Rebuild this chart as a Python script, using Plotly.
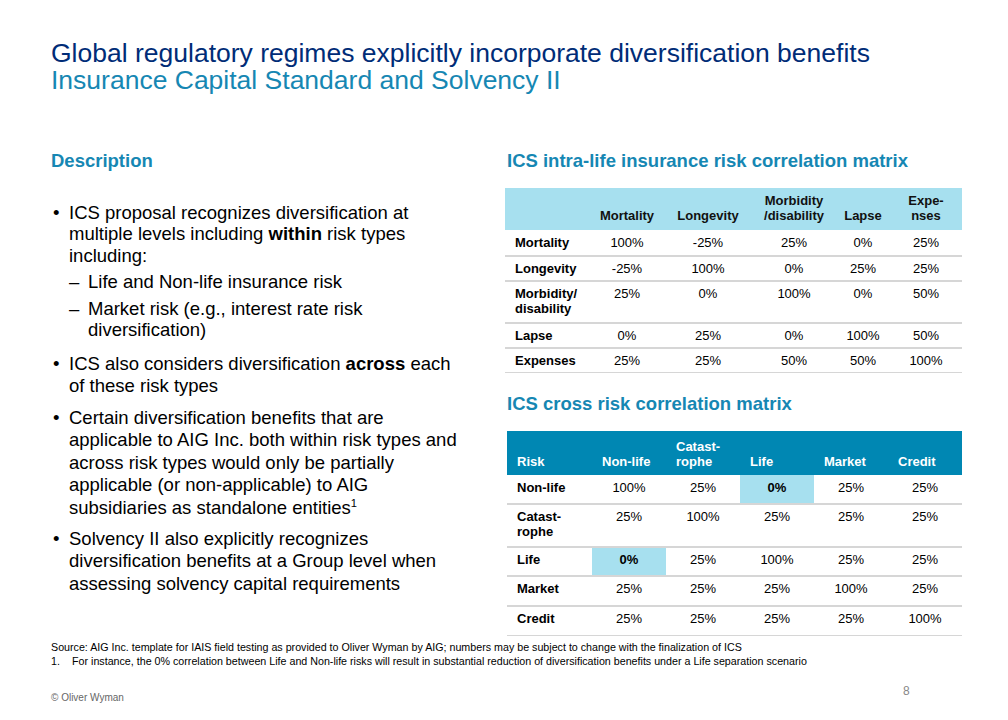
import plotly.graph_objects as go

W, H = 1008, 720
FONT = "Arial, 'Liberation Sans', sans-serif"
NAVY = "#002c77"
TEAL = "#1687b3"
HEAD_DARK = "#0087b3"
HEAD_LIGHT = "#a7e0ef"
RULE = "#d6d6d6"

# ---------------- data ----------------
title_text = "Global regulatory regimes explicitly incorporate diversification benefits"
subtitle_text = "Insurance Capital Standard and Solvency II"
left_heading = "Description"
intra_title = "ICS intra-life insurance risk correlation matrix"
cross_title = "ICS cross risk correlation matrix"

intra_corner = ""
intra_columns = ["Mortality", "Longevity", "Morbidity\n/disability", "Lapse", "Expe-\nnses"]
intra_rows = ["Mortality", "Longevity", "Morbidity/\ndisability", "Lapse", "Expenses"]
intra_values = [
    [100, -25, 25, 0, 25],
    [-25, 100, 0, 25, 25],
    [25, 0, 100, 0, 50],
    [0, 25, 0, 100, 50],
    [25, 25, 50, 50, 100],
]
intra_highlight = []

cross_corner = "Risk"
cross_columns = ["Non-life", "Catast-\nrophe", "Life", "Market", "Credit"]
cross_rows = ["Non-life", "Catast-\nrophe", "Life", "Market", "Credit"]
cross_values = [
    [100, 25, 0, 25, 25],
    [25, 100, 25, 25, 25],
    [0, 25, 100, 25, 25],
    [25, 25, 25, 100, 25],
    [25, 25, 25, 25, 100],
]
cross_highlight = [(0, 2), (2, 0)]  # (row, column): Non-life x Life

bullet_lines = [
    # (kind, text)  kind: "b" bullet first line, "c" continuation, "s" sub-bullet first line, "sc" sub continuation
    ("b", "ICS proposal recognizes diversification at"),
    ("c", "multiple levels including <b>within</b> risk types"),
    ("c", "including:"),
    ("s", "Life and Non-life insurance risk"),
    ("s", "Market risk (e.g., interest rate risk"),
    ("sc", "diversification)"),
    ("b", "ICS also considers diversification <b>across</b> each"),
    ("c", "of these risk types"),
    ("b", "Certain diversification benefits that are"),
    ("c", "applicable to AIG Inc. both within risk types and"),
    ("c", "across risk types would only be partially"),
    ("c", "applicable (or non-applicable) to AIG"),
    ("c", "subsidiaries as standalone entities<span style='font-size:16px'><sup>1</sup></span>"),
    ("b", "Solvency II also explicitly recognizes"),
    ("c", "diversification benefits at a Group level when"),
    ("c", "assessing solvency capital requirements"),
]
source_text = ("Source: AIG Inc. template for IAIS field testing as provided to Oliver Wyman by AIG; "
               "numbers may be subject to change with the finalization of ICS")
footnote_num = "1."
footnote_text = ("For instance, the 0% correlation between Life and Non-life risks will result in "
                 "substantial reduction of diversification benefits under a Life separation scenario")
copyright_text = "© Oliver Wyman"
page_number = "8"

# ---------------- layout config (pixels) ----------------
body_line_y = [212, 233.5, 255.5, 282, 308, 330, 363, 385, 417, 439.5, 462, 484.5, 507, 538, 560.5, 583]

intra_spec = dict(col_edges=[505, 590, 664, 752, 836, 890, 962],
                  row_edges=[188, 230, 256, 281, 323, 348, 373],
                  header_code=1, header_color="#111111", header_align="center",
                  header_pad=13, row_pad=13.5, line_gap=15)
cross_spec = dict(col_edges=[507, 592, 666, 740, 814, 888, 962],
                  row_edges=[431, 475, 504, 547, 576, 606, 636],
                  header_code=2, header_color="#ffffff", header_align="left",
                  header_pad=12.5, row_pad=14, line_gap=15)

fig = go.Figure()


def add_table(n, spec, corner, columns, rows, values, highlights):
    xe = spec["col_edges"]
    ye = spec["row_edges"]
    xa = "xaxis" if n == 1 else f"xaxis{n}"
    ya = "yaxis" if n == 1 else f"yaxis{n}"
    xr = "x" if n == 1 else f"x{n}"
    yr = "y" if n == 1 else f"y{n}"
    fig.update_layout({
        xa: dict(domain=[xe[0] / W, xe[-1] / W], range=[xe[0], xe[-1]], visible=False,
                 fixedrange=True, anchor=yr),
        ya: dict(domain=[1 - ye[-1] / H, 1 - ye[0] / H], range=[ye[-1], ye[0]], visible=False,
                 fixedrange=True, anchor=xr),
    })
    # fills
    ncol = len(columns) + 1
    z = [[spec["header_code"]] * ncol]
    for r in range(len(rows)):
        z.append([0] * ncol)
    for (r, c) in highlights:
        z[r + 1][c + 1] = 1
    fig.add_trace(go.Heatmap(
        x=xe, y=ye, z=z, zmin=0, zmax=2, showscale=False, hoverinfo="skip",
        colorscale=[[0, "#ffffff"], [0.33, "#ffffff"], [0.33, HEAD_LIGHT], [0.67, HEAD_LIGHT],
                    [0.67, HEAD_DARK], [1, HEAD_DARK]],
        xaxis=xr, yaxis=yr))
    # row rules
    lx, ly = [], []
    for b in ye[2:]:
        lx += [xe[0], xe[-1], None]
        ly += [b, b, None]
    fig.add_trace(go.Scatter(x=lx, y=ly, mode="lines", line=dict(color=RULE, width=2),
                             hoverinfo="skip", xaxis=xr, yaxis=yr))
    # text
    cx, cy, ct, cc = [], [], [], []   # centered
    lxs, lys, lts, lcs = [], [], [], []  # left aligned
    hdr_bottom = ye[1]
    headers = [corner] + columns
    for j, h in enumerate(headers):
        if not h:
            continue
        parts = h.split("\n")
        for k, p in enumerate(parts):
            y = hdr_bottom - spec["header_pad"] - (len(parts) - 1 - k) * spec["line_gap"]
            txt = f"<b>{p}</b>"
            if j == 0 or spec["header_align"] == "left":
                lxs.append(xe[j] + 10); lys.append(y); lts.append(txt); lcs.append(spec["header_color"])
            else:
                cx.append((xe[j] + xe[j + 1]) / 2); cy.append(y); ct.append(txt); cc.append(spec["header_color"])
    for i, lab in enumerate(rows):
        top = ye[i + 1]
        for k, p in enumerate(lab.split("\n")):
            lxs.append(xe[0] + 10); lys.append(top + spec["row_pad"] + k * spec["line_gap"])
            lts.append(f"<b>{p}</b>"); lcs.append("#000000")
        for j, v in enumerate(values[i]):
            txt = f"{v}%"
            if (i, j) in highlights:
                txt = f"<b>{txt}</b>"
            cx.append((xe[j + 1] + xe[j + 2]) / 2); cy.append(top + spec["row_pad"])
            ct.append(txt); cc.append("#000000")
    fig.add_trace(go.Scatter(x=cx, y=cy, text=ct, mode="text", textposition="middle center",
                             textfont=dict(family=FONT, size=13, color=cc), hoverinfo="skip",
                             xaxis=xr, yaxis=yr))
    fig.add_trace(go.Scatter(x=lxs, y=lys, text=lts, mode="text", textposition="middle right",
                             textfont=dict(family=FONT, size=13, color=lcs), hoverinfo="skip",
                             xaxis=xr, yaxis=yr))


add_table(1, intra_spec, intra_corner, intra_columns, intra_rows, intra_values, intra_highlight)
add_table(2, cross_spec, cross_corner, cross_columns, cross_rows, cross_values, cross_highlight)


def ann(x, y, text, size, color="#000000", xanchor="left", yanchor="middle"):
    fig.add_annotation(x=x / W, y=1 - y / H, xref="paper", yref="paper", text=text,
                       showarrow=False, xanchor=xanchor, yanchor=yanchor,
                       font=dict(family=FONT, size=size, color=color), align="left")


ann(49, 53, title_text, 26.5, NAVY)
ann(49, 80, subtitle_text, 26.5, TEAL)
ann(49, 160, f"<b>{left_heading}</b>", 18.5, TEAL)
ann(505, 160, f"<b>{intra_title}</b>", 18.5, TEAL)
ann(505, 403, f"<b>{cross_title}</b>", 18.5, TEAL)

for (kind, text), y in zip(bullet_lines, body_line_y):
    if kind == "b":
        ann(51, y, "•", 18.5)
        ann(67, y, text, 18.5)
    elif kind == "c":
        ann(67, y, text, 18.5)
    elif kind == "s":
        ann(67, y, "–", 18.5)
        ann(86, y, text, 18.5)
    else:
        ann(86, y, text, 18.5)

ann(49, 647, source_text, 10.7)
ann(49, 661, footnote_num, 10.7)
ann(70, 661, footnote_text, 10.7)
ann(49, 697, copyright_text, 10, "#666666")
ann(912, 691, page_number, 12, "#888888", xanchor="right")

fig.update_layout(width=W, height=H, autosize=False, margin=dict(l=0, r=0, t=0, b=0, pad=0),
                  paper_bgcolor="#ffffff", plot_bgcolor="rgba(0,0,0,0)", showlegend=False,
                  font=dict(family=FONT))

fig.write_html("out.html", config={"displayModeBar": False, "staticPlot": True},
               post_script="document.body.style.margin='0';")
